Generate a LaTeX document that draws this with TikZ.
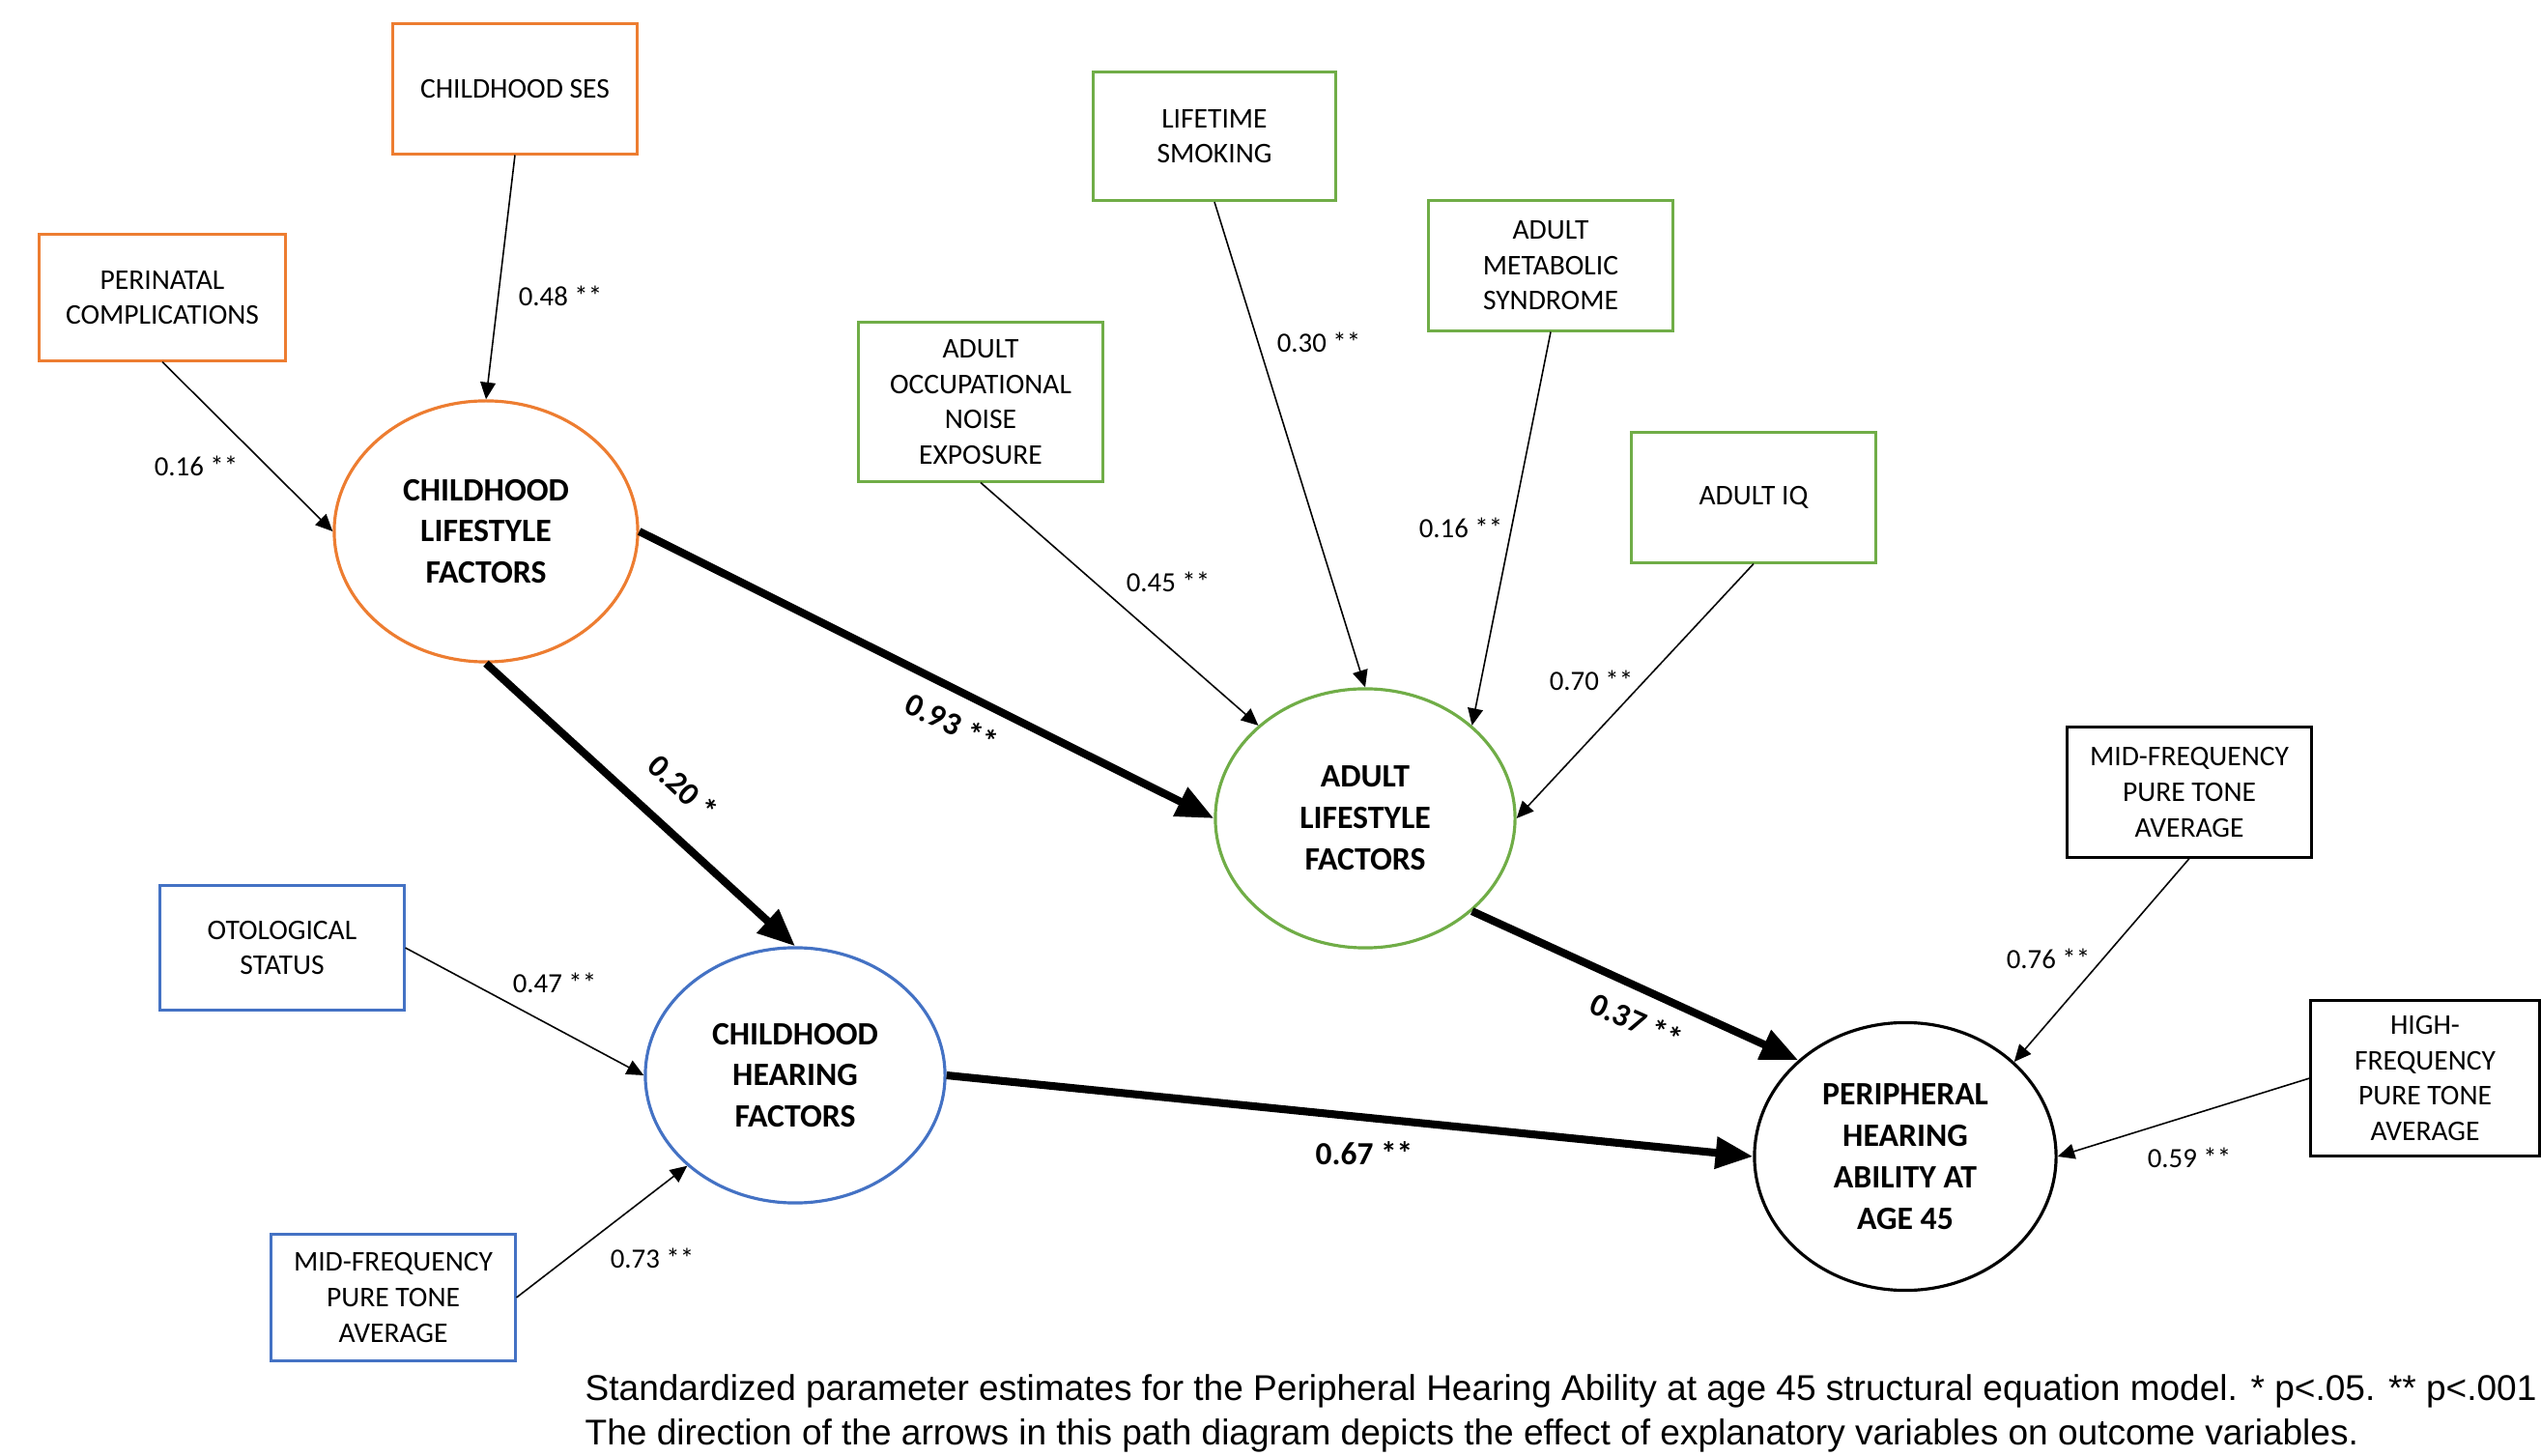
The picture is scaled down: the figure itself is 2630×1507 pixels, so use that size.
\documentclass[tikz,border=0pt]{standalone}
\usepackage{fontspec}
\setmainfont{Carlito}
\newfontfamily\captionfont{Liberation Sans}
\usepackage{tikz}
\usetikzlibrary{shapes.geometric, arrows.meta}
\usepackage{xcolor}

\definecolor{ltorange}{HTML}{ED7D31}
\definecolor{ltgreen}{HTML}{70AD47}
\definecolor{ltblue}{HTML}{4472C4}

\tikzset{
  obsbox/.style={draw, line width=0.85pt, align=center, inner sep=0pt,
    minimum width=2.52cm, minimum height=1.34cm,
    font=\fontsize{8.4}{10.4}\selectfont},
  latent/.style={ellipse, draw, line width=0.9pt, align=center, inner sep=0pt,
    minimum width=3.1cm, minimum height=2.68cm,
    font=\bfseries\fontsize{9.6}{12.2}\selectfont},
  loading/.style={-{Triangle[length=5pt,width=4.5pt]}, line width=0.45pt},
  effect/.style={-{Triangle[length=11pt,width=9pt]}, line width=2.3pt},
  coef/.style={font=\fontsize{8.2}{10}\selectfont, inner sep=1pt},
  bigcoef/.style={font=\bfseries\fontsize{9.5}{11}\selectfont, inner sep=1pt}
}

\begin{document}
\begin{tikzpicture}[x=0.01cm, y=-0.01cm]

  \useasboundingbox (0,0) rectangle (2630,1507);

  % measured variables
  \node[obsbox, draw=ltorange] (ses) at (533,92) {CHILDHOOD SES};
  \node[obsbox, draw=ltorange, minimum width=2.54cm, minimum height=1.30cm] (peri) at (168,308) {PERINATAL\\COMPLICATIONS};
  \node[obsbox, draw=ltgreen, minimum width=2.50cm, minimum height=1.33cm] (smoke) at (1257,141) {LIFETIME\\SMOKING};
  \node[obsbox, draw=ltgreen] (metab) at (1605,275) {ADULT\\METABOLIC\\SYNDROME};
  \node[obsbox, draw=ltgreen, minimum height=1.64cm] (noise) at (1015,416) {ADULT\\OCCUPATIONAL\\NOISE\\EXPOSURE};
  \node[obsbox, draw=ltgreen] (iq) at (1815,515) {ADULT IQ};
  \node[obsbox, draw=ltblue, minimum height=1.28cm] (otol) at (292,981) {OTOLOGICAL\\STATUS};
  \node[obsbox, draw=ltblue, minimum height=1.31cm] (midl) at (407,1343) {MID-FREQUENCY\\PURE TONE\\AVERAGE};
  \node[obsbox] (midr) at (2266,820) {MID-FREQUENCY\\PURE TONE\\AVERAGE};
  \node[obsbox, minimum width=2.36cm, minimum height=1.61cm] (high) at (2510,1116) {HIGH-\\FREQUENCY\\PURE TONE\\AVERAGE};

  % latent factors
  \node[latent, draw=ltorange, minimum width=3.14cm, minimum height=2.70cm] (chl) at (503,550) {CHILDHOOD\\LIFESTYLE\\FACTORS};
  \node[latent, draw=ltgreen] (adl) at (1413,847) {ADULT\\LIFESTYLE\\FACTORS};
  \node[latent, draw=ltblue, minimum height=2.64cm] (chh) at (823,1113) {CHILDHOOD\\HEARING\\FACTORS};
  \node[latent, minimum width=3.12cm, minimum height=2.77cm] (phb) at (1972,1197) {PERIPHERAL\\HEARING\\ABILITY AT\\AGE 45};

  \draw[loading] (ses.south) -- (chl.north);
  \draw[loading] (peri.south) -- (chl.west);
  \draw[loading] (noise.south) -- (adl.139);
  \draw[loading] (smoke.south) -- (adl.north);
  \draw[loading] (metab.south) -- (adl.41);
  \draw[loading] (iq.south) -- (adl.east);
  \draw[loading] (otol.east) -- (chh.west);
  \draw[loading] (midl.east) -- (chh.220);
  \draw[loading] (midr.south) -- (phb.41);
  \draw[loading] (high.west) -- (phb.east);

  \draw[effect] (chl.east) -- (adl.west);
  \draw[effect] (chl.south) -- (chh.north);
  \draw[effect] (adl.-41) -- (phb.138);
  \draw[effect] (chh.east) -- (phb.west);

  \node[coef] (l-ses) at (580,306) {0.48 **};
  \node[coef] (l-peri) at (203,482) {0.16 **};
  \node[coef] (l-noise) at (1209,602) {0.45 **};
  \node[coef] (l-smoke) at (1365,354) {0.30 **};
  \node[coef] (l-metab) at (1512,546) {0.16 **};
  \node[coef] (l-iq) at (1647,704) {0.70 **};
  \node[coef] (l-otol) at (574,1017) {0.47 **};
  \node[coef] (l-midl) at (675,1302) {0.73 **};
  \node[coef] (l-midr) at (2120,992) {0.76 **};
  \node[coef] (l-high) at (2266,1198) {0.59 **};

  \node[bigcoef, rotate=-43] (l-chh) at (707,815) {0.20 *};
  \node[bigcoef, rotate=-26] (l-adl) at (985,748) {0.93 **};
  \node[bigcoef, rotate=-24] (l-phb) at (1694,1057) {0.37 **};
  \node[bigcoef] (l-hear) at (1412,1194) {0.67 **};

  \node[anchor=north west, align=left, inner sep=0pt,
    font=\captionfont\fontsize{10.53}{13}\selectfont] (caption) at (605,1422)
    {Standardized parameter estimates for the Peripheral Hearing Ability at age 45 structural equation model. * p<.05. ** p<.001\\
     The direction of the arrows in this path diagram depicts the effect of explanatory variables on outcome variables.};

\end{tikzpicture}
\end{document}
